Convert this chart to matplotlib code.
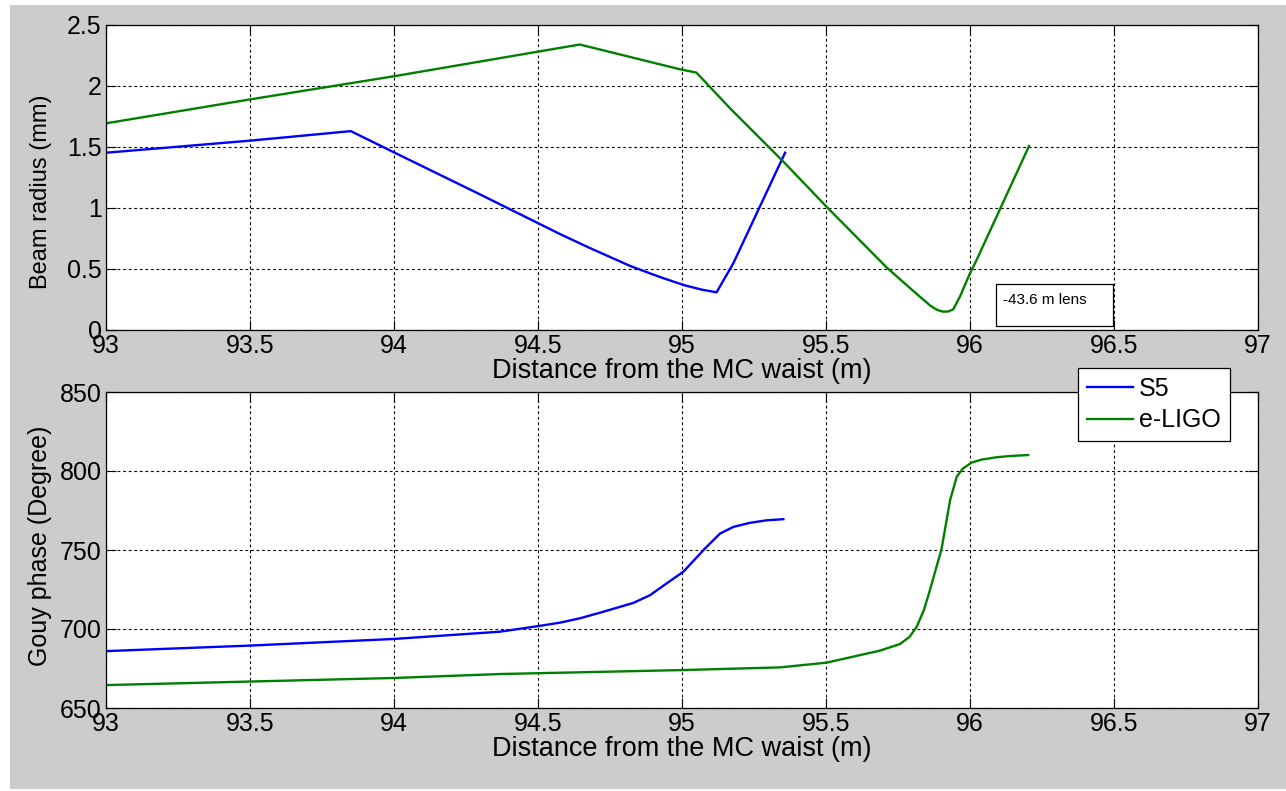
import matplotlib
matplotlib.use("Agg")
import matplotlib.pyplot as plt
from matplotlib.patches import Rectangle

plt.rcParams["font.family"] = ["Liberation Sans", "DejaVu Sans"]

# beam radius (mm) vs distance from the MC waist (m)
s5_z = [93.0, 93.5, 93.85, 94.0, 94.3, 94.576, 94.68, 94.82, 94.92, 95.005, 95.07,
        95.12, 95.178, 95.27, 95.358]
s5_w = [1.453, 1.552, 1.63, 1.456, 1.11, 0.787, 0.672, 0.525, 0.437, 0.369, 0.33,
        0.309, 0.546, 1.01, 1.453]

elig_z = [93.0, 93.5, 94.0, 94.645, 94.993, 95.05, 95.167, 95.352, 95.502, 95.71,
          95.768, 95.826, 95.862, 95.885, 95.907, 95.925, 95.942, 95.965, 96.0,
          96.023, 96.205]
elig_w = [1.694, 1.89, 2.08, 2.34, 2.137, 2.11, 1.817, 1.38, 1.01, 0.514,
          0.393, 0.273, 0.2, 0.165, 0.15, 0.152, 0.17, 0.273, 0.465, 0.574, 1.508]

# accumulated Gouy phase (degrees)
s5_gz = [93.0, 93.5, 94.0, 94.368, 94.503, 94.576, 94.646, 94.715, 94.831, 94.889,
         94.947, 95.005, 95.08, 95.132, 95.178, 95.236, 95.294, 95.352]
s5_g = [686.0, 689.5, 693.7, 698.3, 701.9, 704.0, 706.8, 710.3, 716.5, 721.4,
        728.9, 736.3, 751.0, 760.4, 764.6, 767.2, 768.8, 769.5]

elig_gz = [93.0, 94.0, 94.368, 95.0, 95.34, 95.502, 95.687, 95.757, 95.79, 95.815,
           95.84, 95.861, 95.88, 95.901, 95.915, 95.931, 95.954, 95.975, 96.005,
           96.04, 96.092, 96.14, 96.202]
elig_g = [664.5, 669.0, 671.5, 674.0, 675.7, 678.7, 686.3, 690.5, 695.0, 701.4,
          712.0, 724.7, 737.0, 750.4, 765.0, 781.6, 796.4, 801.5, 805.3,
          807.2, 808.7, 809.5, 810.1]

x_ticks = [93, 93.5, 94, 94.5, 95, 95.5, 96, 96.5, 97]
x_ticklabels = ["93", "93.5", "94", "94.5", "95", "95.5", "96", "96.5", "97"]
w_ticks = [0, 0.5, 1, 1.5, 2, 2.5]
w_ticklabels = ["0", "0.5", "1", "1.5", "2", "2.5"]
g_ticks = [650, 700, 750, 800, 850]

BLUE = "#0000ff"
GREEN = "#008000"
GRAY = "#cccccc"

fig = plt.figure(figsize=(12.86, 7.91), dpi=100, facecolor="white")
fig.patches.append(Rectangle((10 / 1286, 2 / 791), 1 - 10 / 1286, 1 - 7 / 791,
                             transform=fig.transFigure, facecolor=GRAY,
                             edgecolor="none", zorder=-10))

ax1 = fig.add_axes([106 / 1286, 1 - 330 / 791, 1152 / 1286, 305 / 791])
ax2 = fig.add_axes([106 / 1286, 1 - 708 / 791, 1152 / 1286, 316 / 791])


def style(ax):
    ax.set_xlim(93, 97)
    ax.set_xticks(x_ticks)
    ax.set_xticklabels(x_ticklabels)
    ax.grid(True, color="black", linestyle=(0, (2.5, 2.5)), linewidth=0.8)
    ax.set_axisbelow(True)
    ax.tick_params(direction="in", length=7, width=0.8, top=True, right=True,
                   labelsize=18, pad=3, color="black")
    for sp in ax.spines.values():
        sp.set_linewidth(0.9)
    ax.set_xlabel("Distance from the MC waist (m)", fontsize=19.5, labelpad=0)


ax1.plot(s5_z, s5_w, color=BLUE, lw=1.7)
ax1.plot(elig_z, elig_w, color=GREEN, lw=1.7)
style(ax1)
ax1.set_ylim(0, 2.5)
ax1.set_yticks(w_ticks)
ax1.set_yticklabels(w_ticklabels)
ax1.set_ylabel("Beam radius (mm)", fontsize=17)
ax1.yaxis.set_label_coords(-0.047, 0.452)

# lens annotation box
ax1.add_patch(Rectangle((0.7723, 0.0131), 0.1018, 0.1377, transform=ax1.transAxes,
                        facecolor="white", edgecolor="black", lw=0.9, zorder=5))
ax1.text(0.779, 0.098, "-43.6 m lens", transform=ax1.transAxes, fontsize=11,
         va="center", ha="left", zorder=6)

l1, = ax2.plot(s5_gz, s5_g, color=BLUE, lw=1.7)
l2, = ax2.plot(elig_gz, elig_g, color=GREEN, lw=1.7)
style(ax2)
ax2.set_ylim(650, 850)
ax2.set_yticks(g_ticks)
ax2.set_ylabel("Gouy phase (Degree)", fontsize=18)
ax2.yaxis.set_label_coords(-0.047, 0.513)

leg = fig.legend([l1, l2], ["S5", "e-LIGO"], loc="upper left",
                 bbox_to_anchor=(1078 / 1286, 1 - 368 / 791), fontsize=18,
                 frameon=True, fancybox=False, handlelength=1.85, borderpad=0.35,
                 labelspacing=0.3, handletextpad=0.25, borderaxespad=0)
leg.get_frame().set_edgecolor("black")
leg.get_frame().set_linewidth(0.9)
leg.get_frame().set_alpha(1)
leg.set_zorder(20)

fig.savefig("out.png", dpi=100, facecolor=fig.get_facecolor())
